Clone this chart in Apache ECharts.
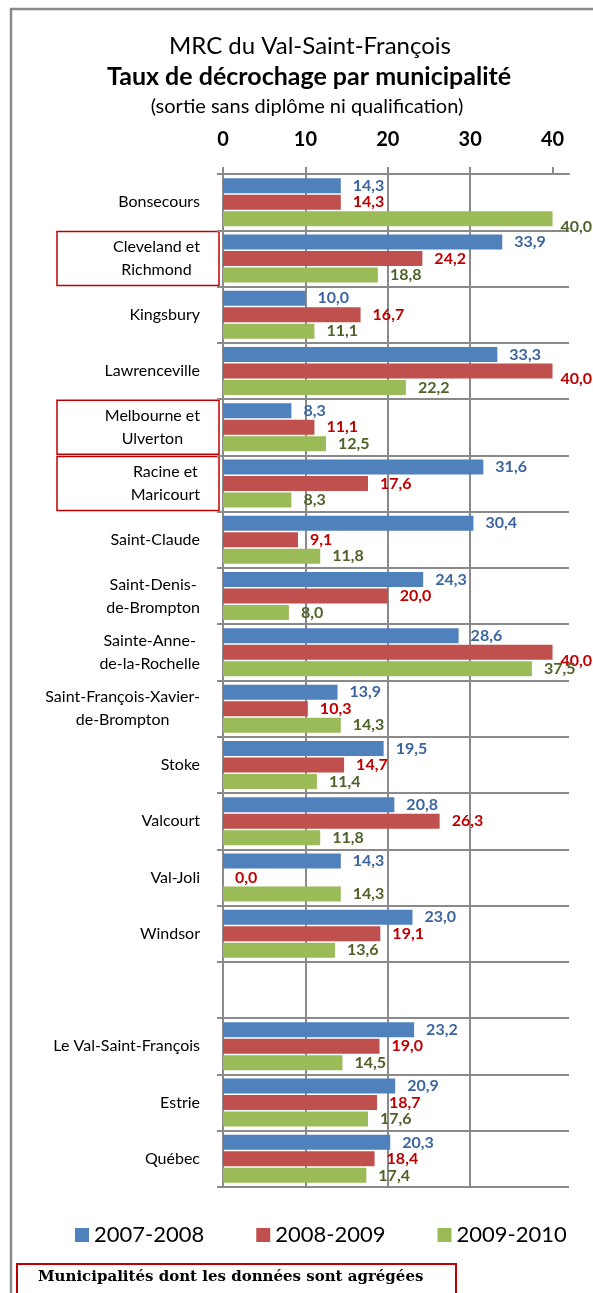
<!DOCTYPE html>
<html>
<head>
<meta charset="utf-8">
<script src="https://cdn.jsdelivr.net/npm/echarts@6/dist/echarts.min.js"></script>
<style>
  html, body { margin: 0; padding: 0; background: #fff; }
  #chart { width: 593px; height: 1293px; }
</style>
</head>
<body>
<div id="chart"></div>
<script>
// municipalités (the blank entry is the empty row between Windsor and the totals)
const categories = [
  'Bonsecours', 'Cleveland et\nRichmond', 'Kingsbury', 'Lawrenceville',
  'Melbourne et\nUlverton', 'Racine et\nMaricourt', 'Saint-Claude',
  'Saint-Denis-\nde-Brompton', 'Sainte-Anne-\nde-la-Rochelle',
  'Saint-François-Xavier-\nde-Brompton', 'Stoke', 'Valcourt', 'Val-Joli',
  'Windsor', ' ', 'Le Val-Saint-François', 'Estrie', 'Québec'
];
const years = ['2007-2008', '2008-2009', '2009-2010'];
const rates0708 = [14.3, 33.9, 10.0, 33.3, 8.3, 31.6, 30.4, 24.3, 28.6, 13.9, 19.5, 20.8, 14.3, 23.0, null, 23.2, 20.9, 20.3];
const rates0809 = [14.3, 24.2, 16.7, 40.0, 11.1, 17.6, 9.1, 20.0, 40.0, 10.3, 14.7, 26.3, 0.0, 19.1, null, 19.0, 18.7, 18.4];
const rates0910 = [40.0, 18.8, 11.1, 22.2, 12.5, 8.3, 11.8, 8.0, 37.5, 14.3, 11.4, 11.8, 14.3, 13.6, null, 14.5, 17.6, 17.4];
const tickValues = [0, 10, 20, 30, 40];
// municipalités dont les données sont agrégées
const aggregated = ['Cleveland et\nRichmond', 'Melbourne et\nUlverton', 'Racine et\nMaricourt'];

const gridColor = '#8a8a8a';
const barColors = ['#4F81BD', '#C0504D', '#9BBB59'];
const labelColors = ['#3B64A0', '#C00000', '#4F6228'];

function makeSeries(i, data) {
  return {
    name: years[i],
    type: 'bar',
    data: data,
    barWidth: 15,
    barGap: '10%',
    itemStyle: { color: barColors[i] },
    label: {
      show: true,
      position: 'right',
      distance: 12,
      color: labelColors[i],
      fontFamily: 'Lato',
      fontWeight: 'bold',
      fontSize: 16,
      formatter: (p) => p.value.toFixed(1).replace('.', ',')
    },
    // keep the labels of the longest bars inside the picture
    labelLayout: (p) => {
      const over = p.labelRect.x + p.labelRect.width - 592;
      return over > 0 ? { x: p.labelRect.x - over, align: 'left' } : {};
    }
  };
}

const chart = echarts.init(document.getElementById('chart'));

const option = {
  animation: false,
  title: [
    {
      text: 'MRC du Val-Saint-François',
      left: 305, top: 29, textAlign: 'center',
      textStyle: { fontFamily: 'Lato', fontWeight: 'normal', fontSize: 24, color: '#000' }
    },
    {
      text: 'Taux de décrochage par municipalité',
      left: 304, top: 59, textAlign: 'center',
      textStyle: { fontFamily: 'Lato', fontWeight: 'bold', fontSize: 25, color: '#000' }
    },
    {
      text: '(sortie sans diplôme ni qualification)',
      left: 302, top: 92, textAlign: 'center',
      textStyle: { fontFamily: 'Lato', fontWeight: 'normal', fontSize: 20, color: '#000' }
    }
  ],
  legend: {
    data: years,
    left: 70,
    top: 1219,
    width: 540,
    icon: 'rect',
    itemWidth: 14,
    itemHeight: 14,
    itemGap: 52,
    textStyle: { fontFamily: 'Lato', fontSize: 22, color: '#000' }
  },
  grid: { left: 223, right: 24, top: 174, bottom: 106, containLabel: false, outerBoundsMode: 'none' },
  xAxis: {
    type: 'value',
    position: 'top',
    min: 0,
    max: 42,
    interval: 10,
    axisLine: { show: true, lineStyle: { color: gridColor, width: 2 } },
    axisTick: { show: true, length: 7, customValues: tickValues, lineStyle: { color: gridColor, width: 2 } },
    axisLabel: {
      customValues: tickValues,
      margin: 24,
      fontFamily: 'Lato',
      fontWeight: 'bold',
      fontSize: 20,
      color: '#000'
    },
    splitLine: { show: true, showMaxLine: false, lineStyle: { color: gridColor, width: 2 } }
  },
  yAxis: {
    type: 'category',
    data: categories,
    inverse: true,
    axisLine: { show: true, lineStyle: { color: gridColor, width: 2 } },
    axisTick: { show: true, length: 6, interval: 0, lineStyle: { color: gridColor, width: 2 } },
    axisLabel: {
      interval: 0,
      margin: 23,
      formatter: (v) => v.split('\n').map((s) => '{c|' + s + '}').join('\n'),
      rich: {
        c: { align: 'center', fontFamily: 'Lato', fontSize: 16, lineHeight: 23, color: '#000' }
      }
    },
    splitLine: { show: true, interval: 0, lineStyle: { color: gridColor, width: 2 } }
  },
  series: [
    makeSeries(0, rates0708),
    makeSeries(1, rates0809),
    makeSeries(2, rates0910)
  ]
};

chart.setOption(option);

// cadre, encadrés rouges et note du bas
const graphics = [
  {
    type: 'rect', id: 'frame', silent: true,
    shape: { x: 11, y: 9, width: 700, height: 1400 },
    style: { fill: 'none', stroke: gridColor, lineWidth: 2.5 }
  },
  {
    type: 'rect', id: 'noteBox', silent: true,
    shape: { x: 17, y: 1264, width: 439, height: 60 },
    style: { fill: 'none', stroke: '#C00000', lineWidth: 2 }
  },
  {
    type: 'text', id: 'noteText', silent: true,
    x: 38, y: 1277,
    style: {
      text: 'Municipalités dont les données sont agrégées',
      fill: '#000',
      font: 'bold 15px "DejaVu Serif"',
      textVerticalAlign: 'middle'
    }
  }
];
aggregated.forEach((name, i) => {
  const cy = chart.convertToPixel({ yAxisIndex: 0 }, name);
  graphics.push({
    type: 'rect', id: 'agg' + i, silent: true,
    shape: { x: 57, y: cy - 27, width: 162, height: 54 },
    style: { fill: 'none', stroke: '#C00000', lineWidth: 1.5 }
  });
});
chart.setOption({ graphic: graphics });
</script>
</body>
</html>
